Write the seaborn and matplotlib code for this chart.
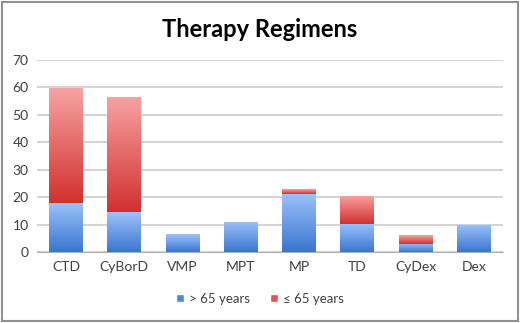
import numpy as np
import pandas as pd
import matplotlib
matplotlib.use("Agg")
import matplotlib.pyplot as plt
import seaborn as sns
from matplotlib.colors import LinearSegmentedColormap
from matplotlib.patches import Patch, Rectangle

# Dati
regimens = ["CTD", "CyBorD", "VMP", "MPT", "MP", "TD", "CyDex", "Dex"]
over_65 = [18.0, 14.5, 6.5, 11.1, 21.3, 10.2, 3.1, 10.0]
under_65 = [41.7, 41.9, 0.0, 0.0, 1.6, 10.4, 3.1, 0.0]
series_labels = ["> 65 years", "\u2264 65 years"]
yticks = [0, 10, 20, 30, 40, 50, 60, 70]

df = pd.DataFrame({"Regimen": regimens, "over": over_65, "under": under_65})
df["total"] = df["over"] + df["under"]

sns.set_style("white")
plt.rcParams["font.family"] = ["Lato", "DejaVu Sans"]

fig = plt.figure(figsize=(5.2, 3.23), dpi=100)
ax = fig.add_axes([0.071, 0.219, 0.896, 0.596])

# Barre impilate: totale (rosso) e sotto la parte > 65 (blu)
sns.barplot(data=df, x="Regimen", y="total", color="#e05050", width=0.58,
            ax=ax, zorder=2)
sns.barplot(data=df, x="Regimen", y="over", color="#5b8fe0", width=0.58,
            ax=ax, zorder=3)

# Riempimento sfumato come in Excel
blue_cmap = LinearSegmentedColormap.from_list("b", ["#3a76cf", "#9cc2fa"])
red_cmap = LinearSegmentedColormap.from_list("r", ["#d2302e", "#f7a3a3"])
grad = np.linspace(0, 1, 256).reshape(-1, 1)
n = len(regimens)
for i, p in enumerate(ax.patches):
    h = p.get_height()
    if h <= 0:
        continue
    x0, w = p.get_x(), p.get_width()
    if i < n:
        y0 = df["over"].iloc[i]
        cmap = red_cmap
    else:
        y0 = 0
        cmap = blue_cmap
    if h - y0 <= 0:
        p.set_visible(False)
        continue
    im = ax.imshow(grad, cmap=cmap, origin="lower", aspect="auto",
                   extent=[x0, x0 + w, y0, h], zorder=p.get_zorder() + 0.1)
    clip = Rectangle((x0, y0), w, h - y0, transform=ax.transData)
    im.set_clip_path(clip)
    p.set_visible(False)

ax.set_xlim(-0.5, n - 0.5)
ax.set_ylim(0, 70)
ax.set_yticks(yticks)
ax.yaxis.grid(True, color="#c8c8c8", linewidth=1.1, zorder=0)
ax.set_axisbelow(True)
for s in ["top", "right", "left"]:
    ax.spines[s].set_visible(False)
ax.spines["bottom"].set_color("#b0b0b0")
ax.set_xlabel("")
ax.set_ylabel("")
ax.tick_params(axis="both", length=0, labelsize=10, colors="#404040", pad=6)

fig.text(0.5, 0.908, "Therapy Regimens", ha="center", va="center",
         fontsize=17, fontweight="bold", color="black")

handles = [Patch(facecolor="#4f86dc", label=series_labels[0]),
           Patch(facecolor="#e05555", label=series_labels[1])]
fig.legend(handles=handles, loc="center", bbox_to_anchor=(0.5, 0.075), ncol=2,
           frameon=False, fontsize=9.5, handlelength=0.6, handleheight=0.6,
           handletextpad=0.4, columnspacing=1.5, labelcolor="#404040")

fig.patches.append(Rectangle((0.003, 0.005), 0.994, 0.99, transform=fig.transFigure,
                             fill=False, edgecolor="#909090", linewidth=1.5))

fig.savefig("out.png", dpi=100)
